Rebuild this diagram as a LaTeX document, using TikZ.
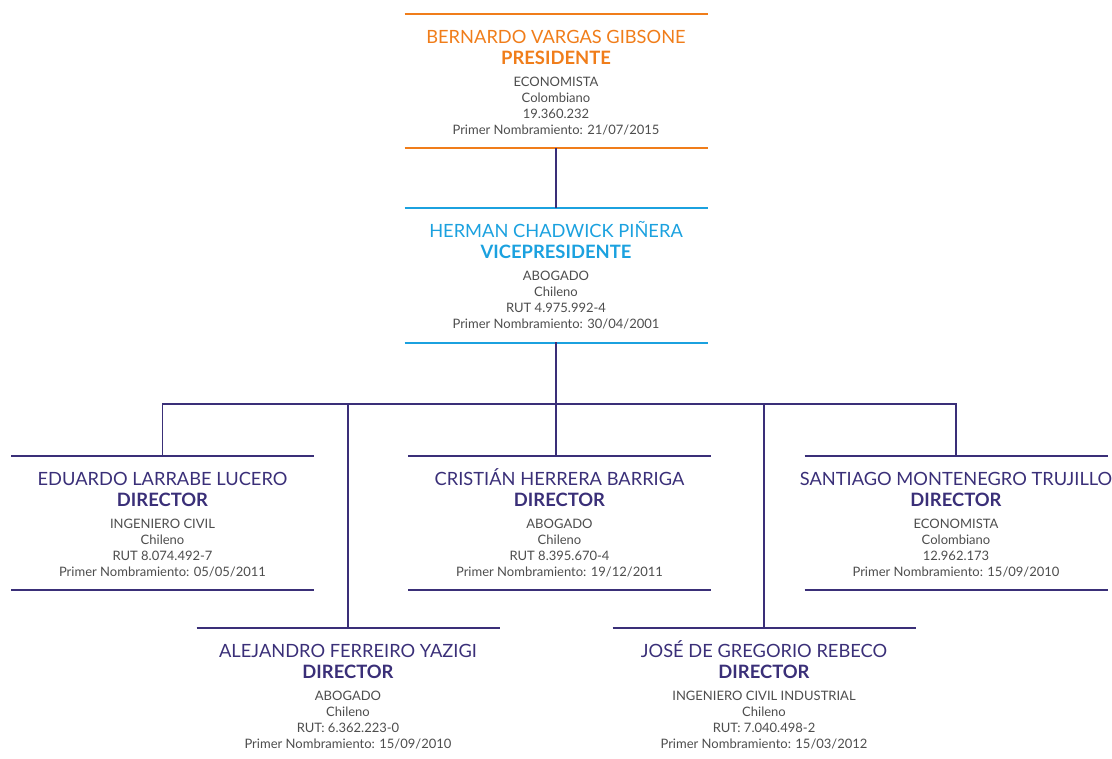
\documentclass[tikz,border=0pt]{standalone}
\usepackage{fontspec}
\setmainfont{Lato}
\usetikzlibrary{calc}
\definecolor{naranjo}{HTML}{F07D1A}
\definecolor{celeste}{HTML}{1BA1DF}
\definecolor{morado}{HTML}{3A2F78}
\definecolor{gris}{HTML}{4D4D4D}
\tikzset{
    regla/.style={line width=1.1pt},
    conector/.style={morado,line width=1.1pt},
    nombre/.style={anchor=base,inner sep=0pt,font=\fontsize{13.7}{15}\selectfont},
    cargo/.style={anchor=base,inner sep=0pt,font=\fontsize{13.8}{15}\selectfont\bfseries},
    dato/.style={anchor=base,inner sep=0pt,text=gris,font=\fontsize{9.75}{12}\selectfont},
}
% id, x, y of top rule, colour, name, title, data lines
\newcommand{\miembro}[7]{%
    \coordinate (#1-top) at (#2,#3);
    \coordinate (#1-bot) at ($(#1-top)+(0,134)$);
    \draw[regla,#4] ($(#1-top)+(-151.5,0)$) -- ($(#1-top)+(151.5,0)$);
    \node[nombre,text=#4] (#1-name) at ($(#1-top)+(0,29)$) {#5};
    \node[cargo,text=#4] (#1-title) at ($(#1-top)+(0,50)$) {#6};
    \foreach \linea [count=\i] in {#7}
        \node[dato] (#1-d\i) at ($(#1-top)+(0,{72+16*(\i-1)})$) {\linea};
}
\begin{document}
\begin{tikzpicture}[x=0.75pt,y=-0.75pt]
    \useasboundingbox (0,0) rectangle (1112,758);
    \miembro{pres}{556}{14}{naranjo}{BERNARDO VARGAS GIBSONE}{PRESIDENTE}
        {ECONOMISTA,Colombiano,19.360.232,Primer Nombramiento: 21/07/2015}
    \draw[regla,naranjo] ($(pres-bot)+(-151.5,0)$) -- ($(pres-bot)+(151.5,0)$);
    \miembro{vp}{556}{208}{celeste}{HERMAN CHADWICK PIÑERA}{VICEPRESIDENTE}
        {ABOGADO,Chileno,RUT 4.975.992-4,Primer Nombramiento: 30/04/2001}
    \draw[regla,celeste] ($(vp-bot)+(-151.5,1)$) -- ($(vp-bot)+(151.5,1)$);
    % directors, first row
    \miembro{larrabe}{162.5}{456}{morado}{EDUARDO LARRABE LUCERO}{DIRECTOR}
        {INGENIERO CIVIL,Chileno,RUT 8.074.492-7,Primer Nombramiento: 05/05/2011}
    \draw[regla,morado] ($(larrabe-bot)+(-151.5,0)$) -- ($(larrabe-bot)+(151.5,0)$);
    \miembro{herrera}{559.5}{456}{morado}{CRISTIÁN HERRERA BARRIGA}{DIRECTOR}
        {ABOGADO,Chileno,RUT 8.395.670-4,Primer Nombramiento: 19/12/2011}
    \draw[regla,morado] ($(herrera-bot)+(-151.5,0)$) -- ($(herrera-bot)+(151.5,0)$);
    \miembro{montenegro}{956}{456}{morado}{SANTIAGO MONTENEGRO TRUJILLO}{DIRECTOR}
        {ECONOMISTA,Colombiano,12.962.173,Primer Nombramiento: 15/09/2010}
    \draw[regla,morado] ($(montenegro-bot)+(-151.5,0)$) -- ($(montenegro-bot)+(151.5,0)$);
    % directors, second row
    \miembro{ferreiro}{348}{628}{morado}{ALEJANDRO FERREIRO YAZIGI}{DIRECTOR}
        {ABOGADO,Chileno,RUT: 6.362.223-0,Primer Nombramiento: 15/09/2010}
    \miembro{gregorio}{764}{628}{morado}{JOSÉ DE GREGORIO REBECO}{DIRECTOR}
        {INGENIERO CIVIL INDUSTRIAL,Chileno,RUT: 7.040.498-2,Primer Nombramiento: 15/03/2012}
    % connectors
    \coordinate (bus) at ($(vp-bot)+(0,62)$);
    \draw[conector] (pres-bot) -- (vp-top);
    \draw[conector] (vp-bot) -- (bus);
    \draw[conector] (bus) -| (larrabe-top);
    \draw[conector] (bus) -| (montenegro-top);
    \draw[conector] (bus) -- (bus |- herrera-top);
    \draw[conector] (bus) -| (ferreiro-top);
    \draw[conector] (bus) -| (gregorio-top);
\end{tikzpicture}
\end{document}
